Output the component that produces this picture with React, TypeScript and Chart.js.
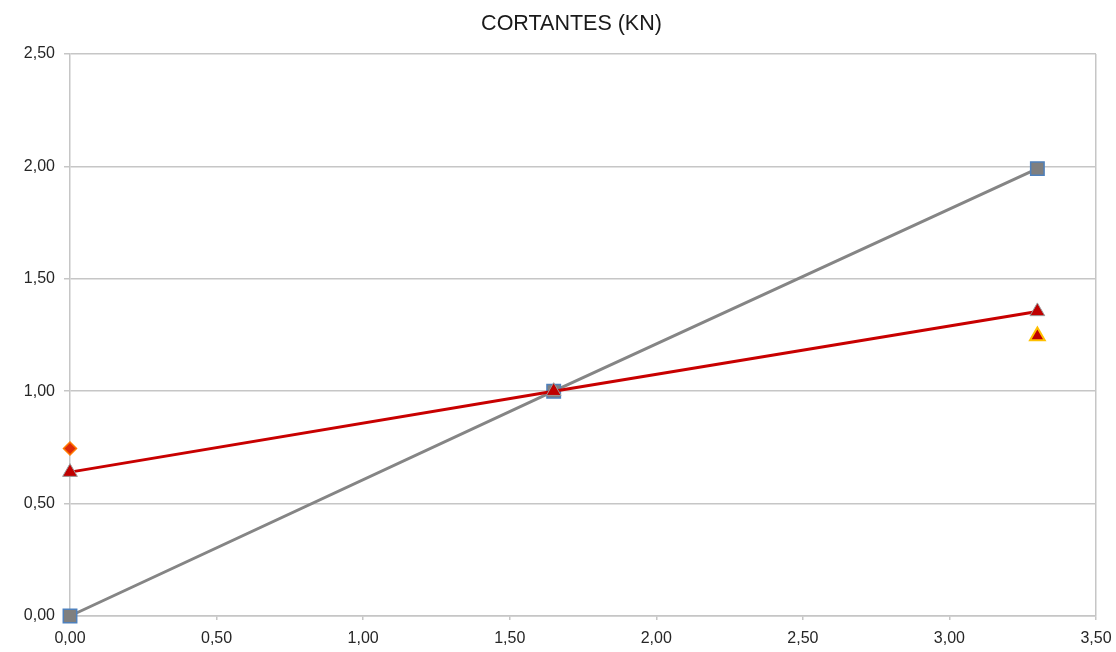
import React, { useEffect, useRef } from "react";
import { Chart, registerables } from "chart.js";

Chart.register(...registerables);

const TITLE = "CORTANTES (KN)";
const X_POS = [0, 1.65, 3.3];
const GRAY_VALUES = [0, 1.0, 1.99];
const RED_VALUES = [0.64, 1.0, 1.355];
const DIAMOND_POINT = { x: 0, y: 0.745 };
const ORANGE_TRI_POINT = { x: 3.3, y: 1.245 };
const X_MIN = 0, X_MAX = 3.5, Y_MIN = 0, Y_MAX = 2.5, STEP = 0.5;

const fmt = (v: number) => Number(v).toFixed(2).replace(".", ",");
const FONT = "'Liberation Sans', Arial, sans-serif";

const titlePlugin = {
  id: "offsetTitle",
  afterDraw(chart: any) {
    const ctx = chart.ctx;
    ctx.save();
    ctx.font = `21.5px ${FONT}`;
    ctx.fillStyle = "#1a1a1a";
    ctx.textAlign = "center";
    ctx.textBaseline = "middle";
    ctx.fillText(TITLE, 571.5, 24);
    ctx.restore();
  },
};

export default function App() {
  const ref = useRef<HTMLCanvasElement | null>(null);
  useEffect(() => {
    if (!ref.current) return;
    const grid = "#c6c6c6";
    const chart = new Chart(ref.current, {
      type: "scatter",
      data: {
        datasets: [
          {
            label: "d",
            data: [DIAMOND_POINT],
            pointStyle: "rectRot",
            pointRadius: 6.5,
            backgroundColor: "#dd2a0a",
            borderColor: "#ff7a00",
            borderWidth: 1.5,
            showLine: false,
            clip: false,
          },
          {
            label: "t",
            data: [ORANGE_TRI_POINT],
            pointStyle: "triangle",
            pointRadius: 8.5,
            backgroundColor: "#c00000",
            borderColor: "#ffc000",
            borderWidth: 2,
            showLine: false,
            clip: false,
          },
          {
            label: "red",
            data: X_POS.map((x, i) => ({ x, y: RED_VALUES[i] })),
            showLine: true,
            borderColor: "#c80000",
            borderWidth: 3,
            pointStyle: "triangle",
            pointRadius: 8.5,
            pointBackgroundColor: "#c00000",
            pointBorderColor: "#9a9a9a",
            pointBorderWidth: 1,
            clip: false,
          },
          {
            label: "gray",
            data: X_POS.map((x, i) => ({ x, y: GRAY_VALUES[i] })),
            showLine: true,
            borderColor: "#858585",
            borderWidth: 3,
            pointStyle: "rect",
            pointRadius: 9.5,
            pointBackgroundColor: "#7f7f7f",
            pointBorderColor: "#4f81bd",
            pointBorderWidth: 1.5,
            clip: false,
          },
        ],
      },
      options: {
        animation: false,
        responsive: true,
        maintainAspectRatio: false,
        layout: { padding: { top: 54, right: 0, bottom: 0, left: 0 } },
        plugins: {
          legend: { display: false },
          tooltip: { enabled: false },
          title: { display: false },
        },
        scales: {
          x: {
            type: "linear",
            min: X_MIN,
            max: X_MAX,
            afterFit: (s: any) => {
              s.height = 36;
              s.paddingRight = 20;
              s.paddingLeft = 0;
            },
            ticks: {
              stepSize: STEP,
              callback: (v: any) => fmt(v),
              color: "#262626",
              padding: 9,
              maxRotation: 0,
              font: { family: FONT, size: 16 },
            },
            grid: {
              color: (c: any) => (c.index === 7 ? grid : "rgba(0,0,0,0)"),
              tickColor: grid,
              tickLength: 4,
              lineWidth: 1.5,
            },
            border: { color: grid, width: 1.5 },
          },
          y: {
            type: "linear",
            min: Y_MIN,
            max: Y_MAX,
            afterFit: (s: any) => {
              s.width = 70;
              s.paddingTop = 0;
            },
            ticks: {
              stepSize: STEP,
              callback: (v: any) => fmt(v),
              color: "#262626",
              padding: 9,
              font: { family: FONT, size: 16 },
            },
            grid: { color: grid, tickColor: grid, tickLength: 6, lineWidth: 1.5 },
            border: { color: grid, width: 1.5 },
          },
        },
      },
      plugins: [titlePlugin],
    } as any);
    return () => chart.destroy();
  }, []);
  return (
    <div style={{ position: "fixed", left: 0, top: 0, width: 1116, height: 652, background: "#fff" }}>
      <canvas ref={ref} />
    </div>
  );
}
